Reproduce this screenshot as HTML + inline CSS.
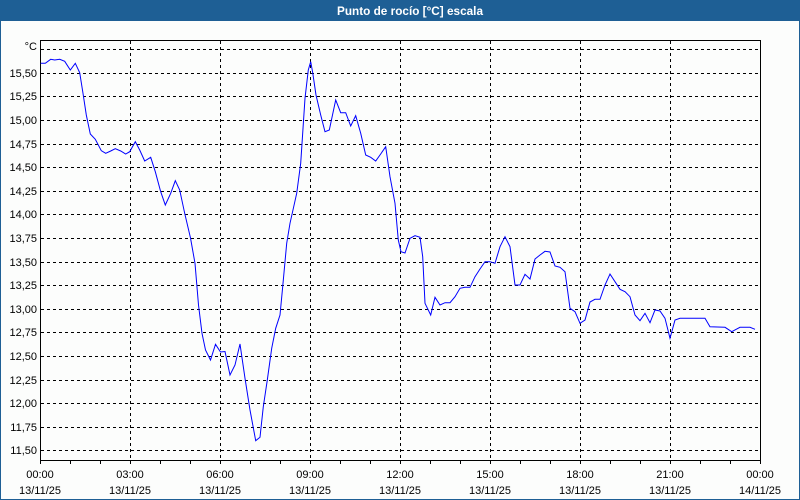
<!DOCTYPE html>
<html><head><meta charset="utf-8"><style>
html,body{margin:0;padding:0;background:#fff;}
svg{display:block;}
</style></head><body>
<svg width="800" height="500" viewBox="0 0 800 500" xmlns="http://www.w3.org/2000/svg" font-family="Liberation Sans, DejaVu Sans, sans-serif">
<rect x="0" y="0" width="800" height="500" fill="#fcfdfc"/>
<rect x="0" y="0" width="800" height="21" fill="#1e5f95"/>
<rect x="0" y="0" width="1" height="500" fill="#1e5f95"/>
<rect x="799" y="0" width="1" height="500" fill="#1e5f95"/>
<rect x="0" y="499" width="800" height="1" fill="#1e5f95"/>
<text x="337" y="15" fill="#fff" font-size="12" font-weight="bold" textLength="146" lengthAdjust="spacingAndGlyphs">Punto de rocío [°C] escala</text>
<g stroke="#000" stroke-width="1" stroke-dasharray="3,3" fill="none" shape-rendering="crispEdges">
<path d="M41 49.5H760M41 73.5H760M41 96.5H760M41 120.5H760M41 144.5H760M41 167.5H760M41 191.5H760M41 214.5H760M41 238.5H760M41 262.5H760M41 285.5H760M41 309.5H760M41 332.5H760M41 356.5H760M41 380.5H760M41 403.5H760M41 427.5H760M41 450.5H760"/>
<path d="M130.5 41V460M220.5 41V460M310.5 41V460M400.5 41V460M490.5 41V460M580.5 41V460M670.5 41V460"/>
</g>
<g stroke="#000" stroke-width="1" fill="none" shape-rendering="crispEdges">
<rect x="40.5" y="40.5" width="720" height="420"/>
<path d="M70.5 460V464M100.5 460V464M130.5 460V464M160.5 460V464M190.5 460V464M220.5 460V464M250.5 460V464M280.5 460V464M310.5 460V464M340.5 460V464M370.5 460V464M400.5 460V464M430.5 460V464M460.5 460V464M490.5 460V464M520.5 460V464M550.5 460V464M580.5 460V464M610.5 460V464M640.5 460V464M670.5 460V464M700.5 460V464M730.5 460V464M760.5 460V464M40.5 460V464"/>
</g>
<g font-size="11" fill="#000" text-anchor="end">
<text x="37" y="50">°C</text>
<text x="37" y="77">15,50</text>
<text x="37" y="100">15,25</text>
<text x="37" y="124">15,00</text>
<text x="37" y="148">14,75</text>
<text x="37" y="171">14,50</text>
<text x="37" y="195">14,25</text>
<text x="37" y="218">14,00</text>
<text x="37" y="242">13,75</text>
<text x="37" y="266">13,50</text>
<text x="37" y="289">13,25</text>
<text x="37" y="313">13,00</text>
<text x="37" y="336">12,75</text>
<text x="37" y="360">12,50</text>
<text x="37" y="384">12,25</text>
<text x="37" y="407">12,00</text>
<text x="37" y="431">11,75</text>
<text x="37" y="454">11,50</text>
</g>
<g font-size="11" fill="#000" text-anchor="middle">
<text x="40" y="478">00:00</text><text x="40" y="494">13/11/25</text>
<text x="130" y="478">03:00</text><text x="130" y="494">13/11/25</text>
<text x="220" y="478">06:00</text><text x="220" y="494">13/11/25</text>
<text x="310" y="478">09:00</text><text x="310" y="494">13/11/25</text>
<text x="400" y="478">12:00</text><text x="400" y="494">13/11/25</text>
<text x="490" y="478">15:00</text><text x="490" y="494">13/11/25</text>
<text x="580" y="478">18:00</text><text x="580" y="494">13/11/25</text>
<text x="670" y="478">21:00</text><text x="670" y="494">13/11/25</text>
<text x="760" y="478">00:00</text><text x="760" y="494">14/11/25</text>
</g>
<polyline fill="none" stroke="#0000ff" stroke-width="1" stroke-linejoin="miter" points="40.7,63.3 45.3,63.3 50.7,59.3 54.7,60 59.7,59.3 64.7,61.3 70.3,70 75.3,63.3 79.7,72.7 83,93.3 86.3,115 90.3,134 95.3,139.3 101.3,150.7 105.7,153.3 110.7,151 115.3,148.7 120.7,151 125.7,154 129.7,151.7 135.3,141.7 139.7,150 144.7,161 150.7,157.3 155.3,171.7 160.7,191.7 165.3,205 170.7,193.3 175.3,180.7 179.7,190 184.7,213.3 190.5,238 195,263.3 198.5,305 202,333.3 205.5,350 210.5,360 215.5,344.3 220.5,352 225,351.5 230,375 235,365 240,344 245,378.3 250,410 255.7,440.7 260,437.3 263.3,406.7 267.3,380 271.7,348.3 275.7,328.3 280,315 282.7,286.7 286.7,243.3 290,223.3 296.7,193.3 300.7,163.3 305,98.3 308.3,70 310.7,61.7 312.7,72.7 316,95 320.7,115 325,131.7 329.3,130 335.7,100 340.7,112.7 345.7,112.7 350.7,126 355.7,115.7 360.7,133.3 365.7,155 370.7,157.3 375.7,161 380.7,154 385.7,146.7 390,176.7 395,203.3 398.3,240 401,251.7 405,253 410,238.3 415,235.7 420,237.3 422.7,256.7 425,303.3 430.7,315 435,297.3 440,305 445,302.7 450,302.7 455,296.7 460,288.3 465,287.3 470,287.3 475,276.7 480,269 485,261.7 490,261.7 495,263.3 500,246.7 505,236.7 510,246.7 515,285 520,285 525,274.3 530,279 535,259 540,255 545,251.3 550,252 555,266 560,267.3 565,271.7 570,308.3 575,311.7 580,323.3 585,320 590,302 595,299.3 600,299.3 605,285 610,274 615,281.7 620,289.3 625,291.7 630,296.7 635,315 640,320.7 645,313.3 650,322.7 655,310 660,311 665,318.3 670,338.3 675,320 680,318.3 705,318.3 710,326.7 725,327.3 731.7,331.7 740,327.3 750,327.3 755,329.3"/>
</svg>
</body></html>
